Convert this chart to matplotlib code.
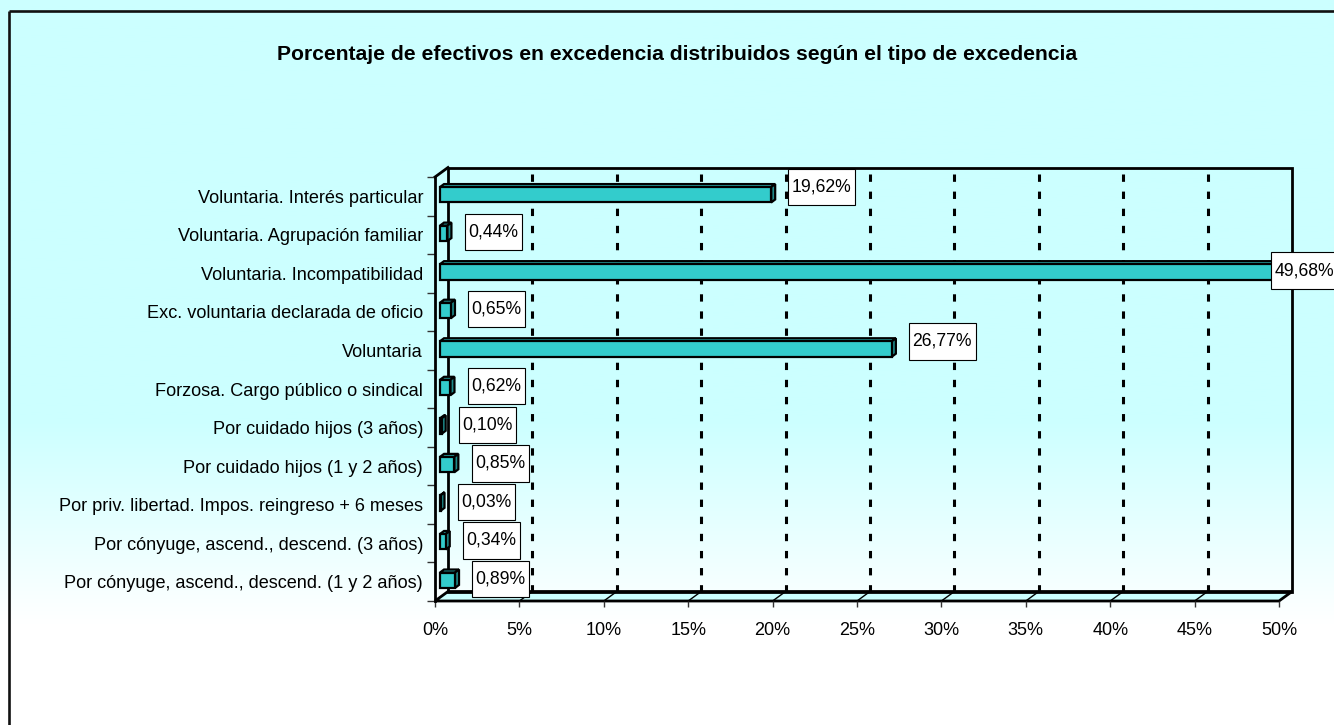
import numpy as np
import matplotlib.pyplot as plt
from matplotlib import transforms
from matplotlib.patches import Polygon, Rectangle
from matplotlib.lines import Line2D
from matplotlib.path import Path

plt.rcParams['font.family'] = ['Liberation Sans', 'DejaVu Sans']

# tipos de excedencia (de arriba abajo) y su porcentaje
categorias = [
    'Voluntaria. Interés particular',
    'Voluntaria. Agrupación familiar',
    'Voluntaria. Incompatibilidad',
    'Exc. voluntaria declarada de oficio',
    'Voluntaria',
    'Forzosa. Cargo público o sindical',
    'Por cuidado hijos (3 años)',
    'Por cuidado hijos (1 y 2 años)',
    'Por priv. libertad. Impos. reingreso + 6 meses',
    'Por cónyuge, ascend., descend. (3 años)',
    'Por cónyuge, ascend., descend. (1 y 2 años)',
]
porcentajes = [19.62, 0.44, 49.68, 0.65, 26.77, 0.62, 0.10, 0.85, 0.03, 0.34, 0.89]
ticks_x = [0, 5, 10, 15, 20, 25, 30, 35, 40, 45, 50]
titulo = 'Porcentaje de efectivos en excedencia distribuidos según el tipo de excedencia'

W, H, DPI = 1334, 725, 100
fig = plt.figure(figsize=(W / DPI, H / DPI), dpi=DPI)

# fondo degradado cian -> blanco
bg = fig.add_axes([0, 0, 1, 1], zorder=-10)
filas = np.linspace(0, 1, 400)
mezcla = np.clip((filas - 0.58) / 0.28, 0, 1)
cian = np.array([0.8, 1.0, 1.0])
blanco = np.array([1.0, 1.0, 1.0])
grad = cian[None, :] * (1 - mezcla[:, None]) + blanco[None, :] * mezcla[:, None]
bg.imshow(grad[:, None, :], aspect='auto', extent=[0, W, H, 0])
bg.set_xlim(0, W)
bg.set_ylim(H, 0)
bg.axis('off')
# marco exterior (izquierda y arriba)
bg.plot([8.5, 8.5], [H, 10.5], color='#111111', lw=1.9, solid_capstyle='butt')
bg.plot([8.5, W], [10.5, 10.5], color='#111111', lw=1.9, solid_capstyle='butt')

fig.text(677 / W, 1 - 55 / H, titulo, ha='center', va='center',
         fontsize=15.2, fontweight='bold')

# plano frontal del grafico
x0, x1, ytop, ybot = 435, 1279, 177, 601
ax = fig.add_axes([x0 / W, 1 - ybot / H, (x1 - x0) / W, (ybot - ytop) / H])
ax.set_facecolor('none')
n = len(categorias)
pos = np.arange(n)
ax.set_xlim(0, 50)
ax.set_ylim(n - 0.5, -0.5)
for s in ax.spines.values():
    s.set_visible(False)


def desplazado(dx, dy):
    return ax.transData + transforms.ScaledTranslation(dx / DPI, dy / DPI, fig.dpi_scale_trans)


fondo = desplazado(13, 9.5)
ident = transforms.IdentityTransform()


def pix(tr, x, y):
    return tr.transform((x, y))


# suelo
yb = n - 0.5
suelo = [pix(ax.transData, 0, yb), pix(ax.transData, 50, yb),
         pix(fondo, 50, yb), pix(fondo, 0, yb)]
ax.add_patch(Polygon(suelo, closed=True, transform=ident, facecolor='#CCFFFF',
                     edgecolor='black', lw=2, zorder=1, clip_on=False))
# pared del fondo
ax.add_patch(Rectangle((0, -0.5), 50, n, transform=fondo, facecolor='none',
                       edgecolor='black', lw=2, zorder=1, clip_on=False))
# rejilla discontinua
for t in ticks_x[1:-1]:
    ax.add_line(Line2D([t, t], [yb, -0.5], transform=fondo, color='black', lw=2.2,
                       dashes=(2.4, 3.2), zorder=1.2, clip_on=False))
    a, b = pix(ax.transData, t, yb), pix(fondo, t, yb)
    ax.add_line(Line2D([a[0], b[0]], [a[1], b[1]], transform=ident, color='black',
                       lw=1, zorder=1.1, clip_on=False))
# pared izquierda
a, b = pix(ax.transData, 0, -0.5), pix(fondo, 0, -0.5)
ax.add_line(Line2D([a[0], b[0]], [a[1], b[1]], transform=ident, color='black',
                   lw=2, zorder=1, clip_on=False))
ax.add_line(Line2D([0, 0], [-0.5, yb], color='black', lw=2, zorder=4, clip_on=False))

# barras 3D
frente = desplazado(5, 1.5)
atras = desplazado(9, 4.5)
alto = 0.4
for y, v in zip(pos, porcentajes):
    ya, yz = y - alto / 2, y + alto / 2
    sup = [pix(frente, 0, ya), pix(frente, v, ya), pix(atras, v, ya), pix(atras, 0, ya)]
    lado = [pix(frente, v, ya), pix(frente, v, yz), pix(atras, v, yz), pix(atras, v, ya)]
    ax.add_patch(Polygon(sup, closed=True, transform=ident, facecolor='#2DB8B8',
                         edgecolor='black', lw=1.6, zorder=3, clip_on=False))
    ax.add_patch(Polygon(lado, closed=True, transform=ident, facecolor='#1F8A8A',
                         edgecolor='black', lw=1.6, zorder=3, clip_on=False))
    ax.add_patch(Rectangle((0, ya), v, alto, transform=frente, facecolor='#33CCCC',
                           edgecolor='black', lw=1.6, zorder=3.1, clip_on=False))


# caja de etiqueta: poco margen lateral, mas margen vertical
def caja(x, y, ancho, alto_caja, escala):
    mx, my = 0.2 * escala, 0.55 * escala
    esquinas = [(x - mx, y - my), (x + ancho + mx, y - my),
                (x + ancho + mx, y + alto_caja + my), (x - mx, y + alto_caja + my),
                (x - mx, y - my)]
    return Path(esquinas, closed=True)


# etiquetas de valor
for y, v in zip(pos, porcentajes):
    dx = 18.5 if v < 45 else 0.5
    dy = 6.5 if 5 < v < 45 else 2
    ax.annotate(f'{v:.2f}%'.replace('.', ','), xy=(v, y), xytext=(dx, dy),
                textcoords='offset points', ha='left', va='center', fontsize=12.7,
                bbox=dict(boxstyle=caja, fc='white', ec='black', lw=0.8),
                zorder=6, annotation_clip=False)

# ejes
ax.set_xticks(ticks_x)
ax.set_xticklabels([f'{t}%' for t in ticks_x], fontsize=13)
ax.tick_params(axis='x', length=4.3, width=1, pad=11, color='#333333')
ax.set_yticks(np.arange(-0.5, n, 1))
ax.set_yticklabels([])
ax.tick_params(axis='y', which='major', length=5.8, width=1, color='#333333')
ax.set_yticks(pos, minor=True)
ax.set_yticklabels(categorias, minor=True, fontsize=13.1)
ax.tick_params(axis='y', which='minor', length=0, pad=8.6)

fig.savefig('out.png', dpi=DPI)
